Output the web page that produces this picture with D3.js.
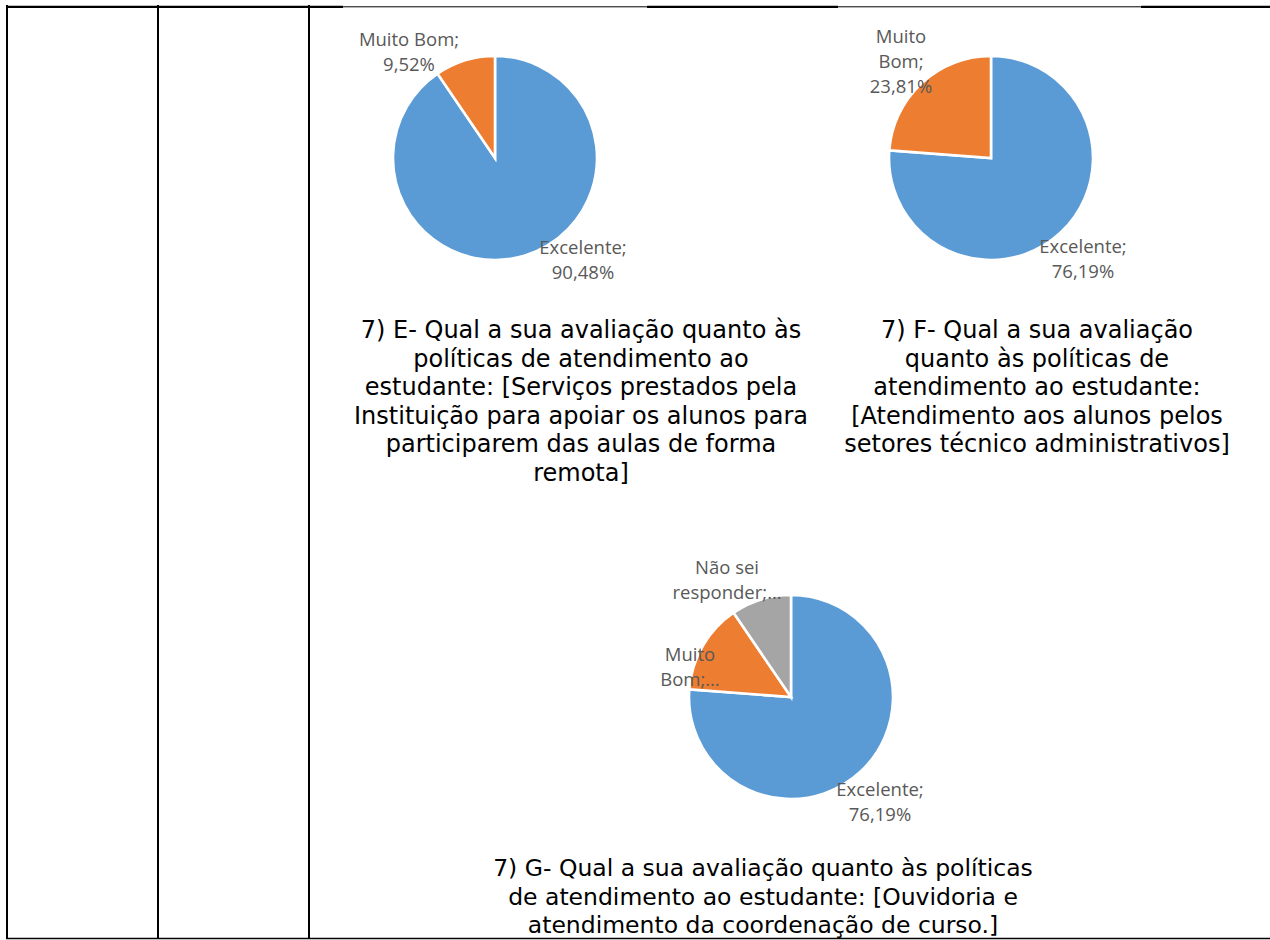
<!DOCTYPE html>
<html>
<head>
<meta charset="utf-8">
<script src="https://cdn.jsdelivr.net/npm/d3@7"></script>
<style>
  html, body { margin: 0; padding: 0; background: #fff; }
  svg { display: block; }
</style>
</head>
<body>
<svg id="page" width="1270" height="940"></svg>
<script>
// Response categories shared by all three questions
const categories = ["Excelente", "Muito Bom", "Não sei responder"];
const sliceColors = ["#5B9BD5", "#ED7D31", "#A5A5A5"];

// Share of answers (%) per question, in category order
const valuesE = [90.48, 9.52];
const valuesF = [76.19, 23.81];
const valuesG = [76.19, 14.29, 9.52];

// Question captions, line by line
const titleE = [
  "7) E- Qual a sua avaliação quanto às",
  "políticas de atendimento ao",
  "estudante: [Serviços prestados pela",
  "Instituição para apoiar os alunos para",
  "participarem das aulas de forma",
  "remota]"
];
const titleF = [
  "7) F- Qual a sua avaliação",
  "quanto às políticas de",
  "atendimento ao estudante:",
  "[Atendimento aos alunos pelos",
  "setores técnico administrativos]"
];
const titleG = [
  "7) G- Qual a sua avaliação quanto às políticas",
  "de atendimento ao estudante: [Ouvidoria e",
  "atendimento da coordenação de curso.]"
];

// Layout of each pie: centre, radius, data-label placement and wrapping
// (words per line; a trailing ellipsis when the label is cut short)
const charts = [
  { values: valuesE, title: titleE, cx: 495, cy: 158, r: 102,
    titleX: 581, titleY: 338, titleSize: 24,
    labels: [
      { dx: 88, dy: 96, words: [1, 1] },
      { dx: -86, dy: -112, words: [2, 1] }
    ] },
  { values: valuesF, title: titleF, cx: 991, cy: 158, r: 102,
    titleX: 1037, titleY: 338, titleSize: 24,
    labels: [
      { dx: 92, dy: 95, words: [1, 1] },
      { dx: -90, dy: -115, words: [1, 1, 1] }
    ] },
  { values: valuesG, title: titleG, cx: 791, cy: 697, r: 102,
    titleX: 763, titleY: 876, titleSize: 23.5,
    labels: [
      { dx: 89, dy: 99, words: [1, 1] },
      { dx: -101, dy: -36, words: [1, 1], cut: true },
      { dx: -64, dy: -123, words: [2, 1], cut: true }
    ] }
];

const svg = d3.select("#page");

// Table grid around the charts
const grid = svg.append("g").attr("stroke", "#000").attr("fill", "none");
[7, 158, 309].forEach(x => {
  grid.append("line").attr("x1", x).attr("x2", x).attr("y1", 5).attr("y2", 939)
    .attr("stroke-width", 2);
});
[[6, 343, 2.2], [343, 647, 1], [647, 838, 2.2], [838, 1141, 1], [1141, 1270, 2.2]]
  .forEach(([x1, x2, w]) => {
    grid.append("line").attr("x1", x1).attr("x2", x2).attr("y1", 6.8).attr("y2", 6.8)
      .attr("stroke-width", w);
  });
grid.append("line").attr("x1", 6).attr("x2", 1270).attr("y1", 938.5).attr("y2", 938.5)
  .attr("stroke-width", 1.4);

const pctFormat = v => d3.format(".2f")(v).replace(".", ",") + "%";
const pie = d3.pie().sort(null).value(d => d);

charts.forEach(c => {
  const g = svg.append("g").attr("transform", `translate(${c.cx},${c.cy})`);
  const arc = d3.arc().innerRadius(0).outerRadius(c.r);

  g.selectAll("path.slice")
    .data(pie(c.values))
    .join("path")
    .attr("class", "slice")
    .attr("d", arc)
    .attr("fill", (d, i) => sliceColors[i])
    .attr("stroke", "#fff")
    .attr("stroke-width", 2.6)
    .attr("stroke-linejoin", "miter");

  // Data labels: "Category; value" wrapped into lines
  c.values.forEach((v, i) => {
    const spec = c.labels[i];
    const words = `${categories[i]}; ${pctFormat(v)}`.split(" ");
    const lines = [];
    let k = 0;
    spec.words.forEach(n => { lines.push(words.slice(k, k + n).join(" ")); k += n; });
    if (spec.cut) lines[lines.length - 1] += "…";
    const t = g.append("text")
      .attr("text-anchor", "middle")
      .attr("font-family", "'Open Sans', 'Noto Sans', sans-serif")
      .attr("font-size", 18.5)
      .attr("fill", "#595959");
    lines.forEach((s, j) => {
      t.append("tspan").attr("x", spec.dx).attr("y", spec.dy + j * 25).text(s);
    });
  });

  // Question caption
  const title = svg.append("text")
    .attr("text-anchor", "middle")
    .attr("font-family", "'DejaVu Sans', Verdana, sans-serif")
    .attr("font-size", c.titleSize)
    .attr("fill", "#000");
  c.title.forEach((s, j) => {
    title.append("tspan").attr("x", c.titleX).attr("y", c.titleY + j * 28.6).text(s);
  });
});
</script>
</body>
</html>
